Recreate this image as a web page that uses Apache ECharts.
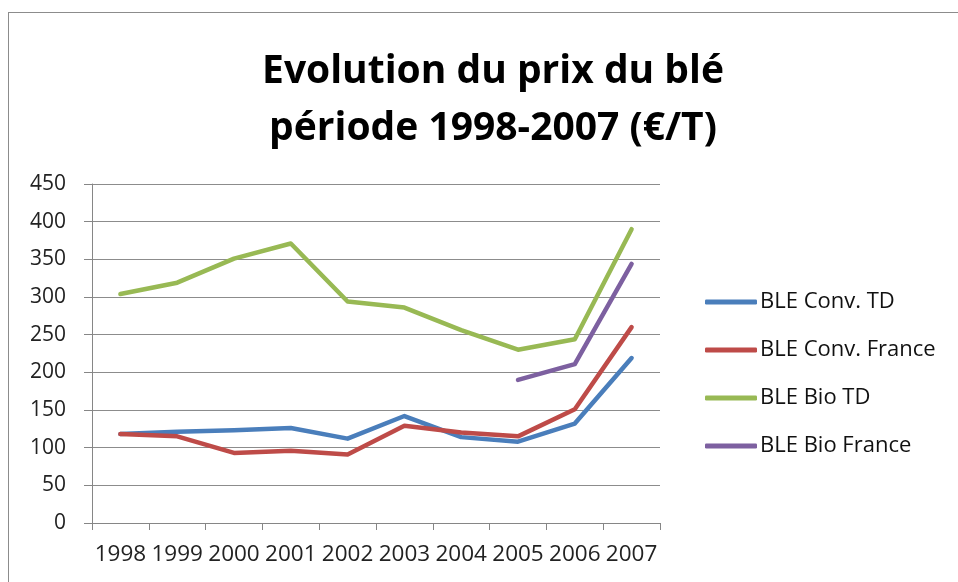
<!DOCTYPE html>
<html><head><meta charset="utf-8">
<script src="https://cdn.jsdelivr.net/npm/echarts@6/dist/echarts.min.js"></script>
<style>
html,body{margin:0;padding:0;background:#fff;}
#frame{position:absolute;left:8px;top:12px;width:980px;height:600px;border:1.5px solid #8c8c8c;box-sizing:border-box;}
#c{position:absolute;left:0;top:0;width:958px;height:582px;}
</style></head>
<body><div id="frame"></div><div id="c"></div>
<script>
const years = ['1998','1999','2000','2001','2002','2003','2004','2005','2006','2007'];
const convTD = [118, 121, 123, 126, 112, 142, 114, 108, 132, 219];
const convFrance = [118, 115, 93, 96, 91, 129, 120, 115, 151, 260];
const bioTD = [304, 319, 351, 371, 294, 286, 256, 230, 244, 390];
const bioFrance = [null, null, null, null, null, null, null, 190, 211, 344];
const seriesNames = ['BLE Conv. TD','BLE Conv. France','BLE Bio TD','BLE Bio France'];
const colors = ['#4A7EBB','#BE4B48','#98B954','#7D60A0'];
const yTicks = {min:0, max:450, interval:50};

const chart = echarts.init(document.getElementById('c'));
const font = '"Open Sans",sans-serif';
const mk = (name, data, i) => ({
  name, type:'line', data, symbol:'none', connectNulls:false,
  lineStyle:{width:4.5, color:colors[i], cap:'round', join:'round'},
  itemStyle:{color:colors[i]}, animation:false
});
chart.setOption({
  animation:false,
  title:{
    text:'Evolution du prix du blé\npériode 1998-2007 (€/T)',
    left:488, top:38, textAlign:'center',
    textStyle:{fontFamily:font, fontWeight:'bold', fontSize:39, lineHeight:57, color:'#000'}
  },
  legend:{
    orient:'vertical', left:700, top:286, itemGap:26, itemWidth:52, itemHeight:5,
    icon:'roundRect',
    textStyle:{fontFamily:font, fontSize:22, color:'#111', padding:[0,0,0,-2]},
    data:seriesNames
  },
  grid:{left:92, top:184, right:298, bottom:59},
  xAxis:{
    type:'category', data:years, boundaryGap:true,
    axisLine:{lineStyle:{color:'#868686', width:1}},
    axisTick:{show:true, length:7, alignWithLabel:false, lineStyle:{color:'#868686'}},
    axisLabel:{interval:0, hideOverlap:false, fontFamily:font, fontSize:22.5, color:'#222', margin:20}
  },
  yAxis:{
    type:'value', min:yTicks.min, max:yTicks.max, interval:yTicks.interval,
    axisLine:{show:true, lineStyle:{color:'#868686'}},
    axisTick:{show:true, length:8, lineStyle:{color:'#868686'}},
    splitLine:{lineStyle:{color:'#8c8c8c', width:1}},
    axisLabel:{fontFamily:font, fontSize:21, color:'#222', margin:26}
  },
  series:[
    mk(seriesNames[0], convTD, 0),
    mk(seriesNames[1], convFrance, 1),
    mk(seriesNames[2], bioTD, 2),
    mk(seriesNames[3], bioFrance, 3)
  ]
});
</script></body></html>
